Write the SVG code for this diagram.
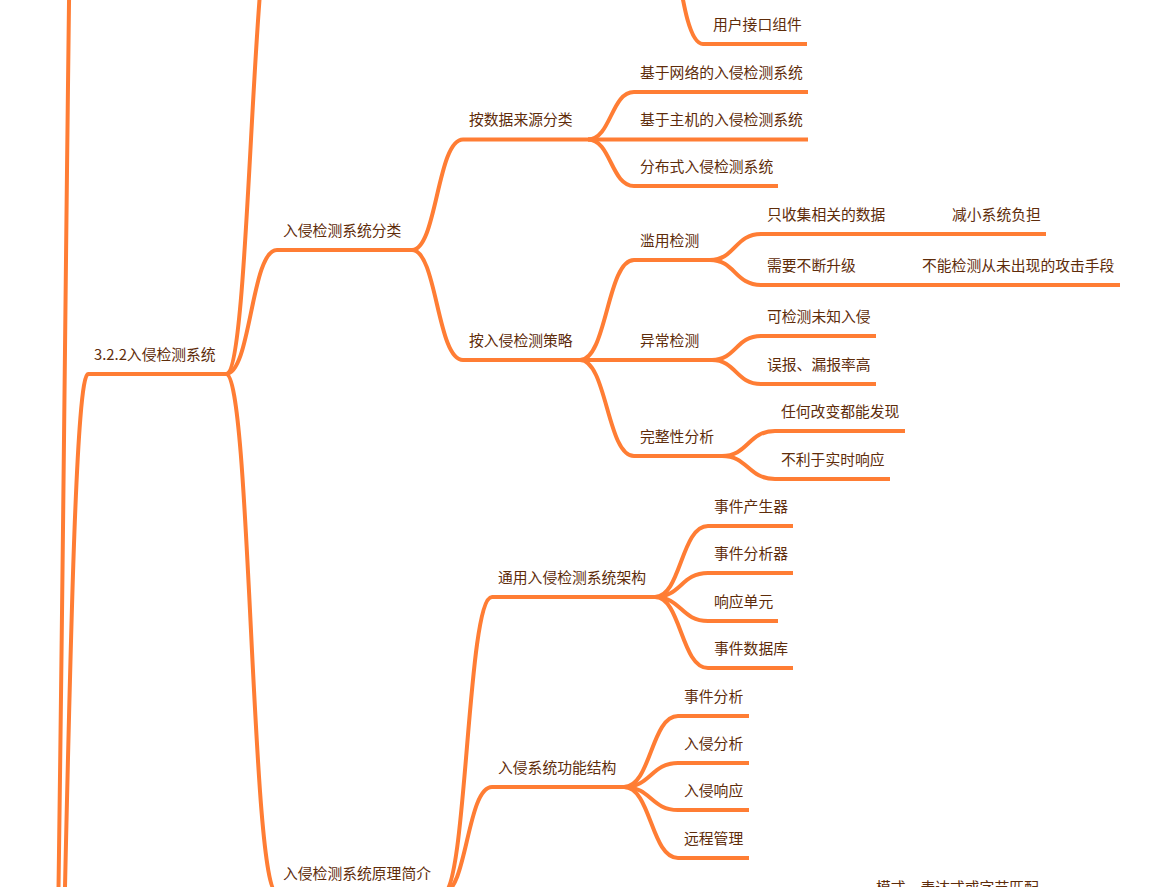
<svg xmlns="http://www.w3.org/2000/svg" width="1149" height="887" viewBox="0 0 1149 887">
<style>
.ln{fill:none;stroke:#ff7d34;stroke-width:4;stroke-linecap:butt}
.t{font-family:"Noto Sans CJK SC","Noto Sans",sans-serif;font-size:14.8px;fill:#5e2c0a}
</style>
<rect width="1149" height="887" fill="#ffffff"/>
<g id="connectors" class="ln">
<path d="M42,1400 C65,1400 65,-700 88,-700"/>
<path d="M42,1400 C65,1400 65,374 88,374"/>
<path d="M226,374 C251,374 251,-100 277,-100"/>
<path d="M226,374 C251,374 251,250 277,250"/>
<path d="M226,374 C251,374 251,893 277,893"/>
<path d="M652,-110 C677,-110 677,44 703,44"/>
<path d="M412,250 C437,250 437,139.5 463,139.5"/>
<path d="M412,250 C437,250 437,360 463,360"/>
<path d="M588,139.5 C611,139.5 611,92 634,92"/>
<path d="M588,139.5 H634"/>
<path d="M588,139.5 C611,139.5 611,186 634,186"/>
<path d="M580,360 C607,360 607,260 634,260"/>
<path d="M580,360 H634"/>
<path d="M580,360 C607,360 607,456 634,456"/>
<path d="M710,260 C735,260 735,234 761,234"/>
<path d="M710,260 C735,260 735,285 761,285"/>
<path d="M890,234 H942"/>
<path d="M862,285 H916"/>
<path d="M712,360 C736,360 736,336 761,336"/>
<path d="M712,360 C736,360 736,384 761,384"/>
<path d="M722,456 C748,456 748,431 775,431"/>
<path d="M722,456 C748,456 748,479 775,479"/>
<path d="M443,893 C467,893 467,597 492,597"/>
<path d="M443,893 C467,893 467,787 492,787"/>
<path d="M655,597 C681,597 681,526 708,526"/>
<path d="M655,597 C681,597 681,573 708,573"/>
<path d="M655,597 C681,597 681,621 708,621"/>
<path d="M655,597 C681,597 681,668 708,668"/>
<path d="M624,787 C651,787 651,716 678,716"/>
<path d="M624,787 C651,787 651,763 678,763"/>
<path d="M624,787 C651,787 651,810 678,810"/>
<path d="M624,787 C651,787 651,858 678,858"/>
</g>
<g id="n-ui"><path class="ln" d="M703,44 H807"/><text class="t" x="713" y="30">用户接口组件</text></g>
<g id="n-net"><path class="ln" d="M634,92 H808"/><text class="t" x="640" y="78">基于网络的入侵检测系统</text></g>
<g id="n-host"><path class="ln" d="M634,139.5 H808"/><text class="t" x="640" y="125">基于主机的入侵检测系统</text></g>
<g id="n-dist"><path class="ln" d="M634,186 H778"/><text class="t" x="640" y="172">分布式入侵检测系统</text></g>
<g id="n-src"><path class="ln" d="M463,139.5 H588"/><text class="t" x="469" y="125">按数据来源分类</text></g>
<g id="n-cls"><path class="ln" d="M277,250 H412"/><text class="t" x="283" y="236">入侵检测系统分类</text></g>
<g id="n-ids"><path class="ln" d="M88,374 H226"/><text class="t" x="94" y="360">3.2.2入侵检测系统</text></g>
<g id="n-strat"><path class="ln" d="M463,360 H580"/><text class="t" x="469" y="346">按入侵检测策略</text></g>
<g id="n-misuse"><path class="ln" d="M634,260 H710"/><text class="t" x="640" y="246">滥用检测</text></g>
<g id="n-collect"><path class="ln" d="M761,234 H890"/><text class="t" x="767" y="220">只收集相关的数据</text></g>
<g id="n-reduce"><path class="ln" d="M942,234 H1046"/><text class="t" x="952" y="220">减小系统负担</text></g>
<g id="n-upgrade"><path class="ln" d="M761,285 H862"/><text class="t" x="767" y="271">需要不断升级</text></g>
<g id="n-unknown"><path class="ln" d="M916,285 H1120"/><text class="t" x="922" y="271">不能检测从未出现的攻击手段</text></g>
<g id="n-anomaly"><path class="ln" d="M634,360 H712"/><text class="t" x="640" y="346">异常检测</text></g>
<g id="n-detect"><path class="ln" d="M761,336 H876"/><text class="t" x="767" y="322">可检测未知入侵</text></g>
<g id="n-false"><path class="ln" d="M761,384 H876"/><text class="t" x="767" y="370">误报、漏报率高</text></g>
<g id="n-integ"><path class="ln" d="M634,456 H722"/><text class="t" x="640" y="442">完整性分析</text></g>
<g id="n-any"><path class="ln" d="M775,431 H905"/><text class="t" x="781" y="417">任何改变都能发现</text></g>
<g id="n-rt"><path class="ln" d="M775,479 H890"/><text class="t" x="781" y="465">不利于实时响应</text></g>
<g id="n-prin"><path class="ln" d="M277,893 H443"/><text class="t" x="283" y="879">入侵检测系统原理简介</text></g>
<g id="n-arch"><path class="ln" d="M492,597 H655"/><text class="t" x="498" y="583">通用入侵检测系统架构</text></g>
<g id="n-gen"><path class="ln" d="M708,526 H793"/><text class="t" x="714" y="512">事件产生器</text></g>
<g id="n-ana"><path class="ln" d="M708,573 H793"/><text class="t" x="714" y="559">事件分析器</text></g>
<g id="n-resp"><path class="ln" d="M708,621 H778"/><text class="t" x="714" y="607">响应单元</text></g>
<g id="n-db"><path class="ln" d="M708,668 H793"/><text class="t" x="714" y="654">事件数据库</text></g>
<g id="n-func"><path class="ln" d="M492,787 H624"/><text class="t" x="498" y="773">入侵系统功能结构</text></g>
<g id="n-evt"><path class="ln" d="M678,716 H749"/><text class="t" x="684" y="702">事件分析</text></g>
<g id="n-intr"><path class="ln" d="M678,763 H749"/><text class="t" x="684" y="749">入侵分析</text></g>
<g id="n-iresp"><path class="ln" d="M678,810 H749"/><text class="t" x="684" y="796">入侵响应</text></g>
<g id="n-remote"><path class="ln" d="M678,858 H749"/><text class="t" x="684" y="844">远程管理</text></g>
<g id="n-match"><text class="t" x="876" y="893">模式、表达式或字节匹配</text></g>
</svg>
